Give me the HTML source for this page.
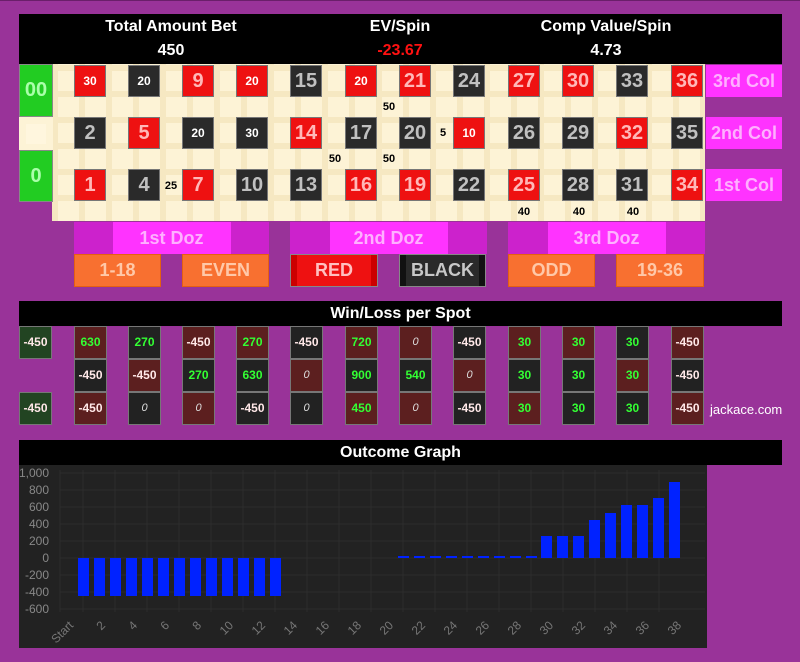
<!DOCTYPE html>
<html><head><meta charset="utf-8"><style>
*{margin:0;padding:0;box-sizing:border-box}
body{width:800px;height:662px;background:#993399;position:relative;overflow:hidden;font-family:"Liberation Sans",Arial,sans-serif;font-weight:bold}
.a{position:absolute}
.hd{background:#000;color:#fff;text-align:center}
.t{position:absolute;font-size:16px;color:#fff;text-align:center;width:240px}
.c{position:absolute;width:32px;height:32px;border:1px solid #777;text-align:center;line-height:30px;font-size:20px}
.r{background:#ee1111;color:#ffb8b8}
.k{background:#2a2a2a;color:#c0c0c0}
.s{font-size:12px;color:#fff}
.chip{position:absolute;font-size:11px;color:#000;width:24px;text-align:center;margin-left:-12px;line-height:12px}
.col{position:absolute;left:706px;width:76px;height:32px;background:#ff33ff;color:#ffb0ff;font-size:18px;text-align:center;line-height:32px;font-weight:bold}
.dz{position:absolute;top:222px;height:32px;background:#cc22cc}
.dz span{position:absolute;left:50%;transform:translateX(-50%);top:0;height:32px;width:118px;background:#ff33ff;color:#ffb0ff;font-size:18px;line-height:32px;text-align:center}
.ob{position:absolute;top:254px;height:33px;background:#f87030;border:1px solid #e56010;color:#ffc8a8;font-size:18px;text-align:center;line-height:31px}
.w{position:absolute;width:33px;height:33px;border:1px solid #777;text-align:center;line-height:31px;font-size:12px;color:#ffe8e8}
.wr{background:#5c1f1f}.wk{background:#222}.wg{background:#224422}
.p{color:#33ff33}.z{font-style:italic;font-weight:normal;color:#ddd;font-size:11px}
</style></head><body>
<div class="a" style="left:0;top:0;width:800px;height:1px;background:#6a1f6a"></div>
<div class="a hd" style="left:19px;top:14px;width:763px;height:50px"></div>
<div class="t" style="left:51px;top:18px">Total Amount Bet</div>
<div class="t" style="left:51px;top:42px">450</div>
<div class="t" style="left:280px;top:18px">EV/Spin</div>
<div class="t" style="left:280px;top:42px;color:#ff1111">-23.67</div>
<div class="t" style="left:486px;top:18px">Comp Value/Spin</div>
<div class="t" style="left:486px;top:42px">4.73</div>

<div class="a" style="left:52px;top:64px;width:653px;height:157px;background:#fdf3d6;background-image:repeating-linear-gradient(90deg,#f6e8c2 0 6px,transparent 6px 27px),repeating-linear-gradient(0deg,transparent 0 20px,#f6e8c2 20px 26px)"></div>
<div class="a" style="left:19px;top:64px;width:34px;height:53px;background:#22cc22;border:1px solid #888;color:#aaffaa;font-size:20px;text-align:center;line-height:51px">00</div>
<div class="a" style="left:19px;top:117px;width:34px;height:33px;background:#fdf3d6"></div>
<div class="a" style="left:26px;top:124px;width:20px;height:20px;background:#fff6de"></div>
<div class="a" style="left:19px;top:150px;width:34px;height:52px;background:#22cc22;border:1px solid #888;color:#aaffaa;font-size:20px;text-align:center;line-height:50px">0</div>

<div class="c r s" style="left:74px;top:65px">30</div>
<div class="c k s" style="left:128px;top:65px">20</div>
<div class="c r" style="left:182px;top:65px">9</div>
<div class="c r s" style="left:236px;top:65px">20</div>
<div class="c k" style="left:290px;top:65px">15</div>
<div class="c r s" style="left:345px;top:65px">20</div>
<div class="c r" style="left:399px;top:65px">21</div>
<div class="c k" style="left:453px;top:65px">24</div>
<div class="c r" style="left:508px;top:65px">27</div>
<div class="c r" style="left:562px;top:65px">30</div>
<div class="c k" style="left:616px;top:65px">33</div>
<div class="c r" style="left:671px;top:65px">36</div>
<div class="c k" style="left:74px;top:117px">2</div>
<div class="c r" style="left:128px;top:117px">5</div>
<div class="c k s" style="left:182px;top:117px">20</div>
<div class="c k s" style="left:236px;top:117px">30</div>
<div class="c r" style="left:290px;top:117px">14</div>
<div class="c k" style="left:345px;top:117px">17</div>
<div class="c k" style="left:399px;top:117px">20</div>
<div class="c r s" style="left:453px;top:117px">10</div>
<div class="c k" style="left:508px;top:117px">26</div>
<div class="c k" style="left:562px;top:117px">29</div>
<div class="c r" style="left:616px;top:117px">32</div>
<div class="c k" style="left:671px;top:117px">35</div>
<div class="c r" style="left:74px;top:169px">1</div>
<div class="c k" style="left:128px;top:169px">4</div>
<div class="c r" style="left:182px;top:169px">7</div>
<div class="c k" style="left:236px;top:169px">10</div>
<div class="c k" style="left:290px;top:169px">13</div>
<div class="c r" style="left:345px;top:169px">16</div>
<div class="c r" style="left:399px;top:169px">19</div>
<div class="c k" style="left:453px;top:169px">22</div>
<div class="c r" style="left:508px;top:169px">25</div>
<div class="c k" style="left:562px;top:169px">28</div>
<div class="c k" style="left:616px;top:169px">31</div>
<div class="c r" style="left:671px;top:169px">34</div>

<div class="chip" style="left:389px;top:101px">50</div>
<div class="chip" style="left:335px;top:153px">50</div>
<div class="chip" style="left:389px;top:153px">50</div>
<div class="chip" style="left:443px;top:127px">5</div>
<div class="chip" style="left:171px;top:180px">25</div>
<div class="chip" style="left:524px;top:206px">40</div>
<div class="chip" style="left:579px;top:206px">40</div>
<div class="chip" style="left:633px;top:206px">40</div>

<div class="col" style="top:65px">3rd Col</div>
<div class="col" style="top:117px">2nd Col</div>
<div class="col" style="top:169px">1st Col</div>

<div class="dz" style="left:74px;width:195px"><span>1st Doz</span></div>
<div class="dz" style="left:290px;width:197px"><span>2nd Doz</span></div>
<div class="dz" style="left:508px;width:197px"><span>3rd Doz</span></div>

<div class="ob" style="left:74px;width:87px">1-18</div>
<div class="ob" style="left:182px;width:87px">EVEN</div>
<div class="ob" style="left:290px;width:88px;background:#ee1111;border-color:#888;color:#ffc0c0;box-shadow:inset 6px 0 #cc0000,inset -6px 0 #cc0000">RED</div>
<div class="ob" style="left:399px;width:87px;background:#2a2a2a;border-color:#888;color:#c8c8c8;box-shadow:inset 6px 0 #111,inset -6px 0 #111">BLACK</div>
<div class="ob" style="left:508px;width:87px">ODD</div>
<div class="ob" style="left:616px;width:88px">19-36</div>

<div class="a hd" style="left:19px;top:301px;width:763px;height:25px;font-size:16px;line-height:25px">Win/Loss per Spot</div>
<div class="w wg" style="left:19px;top:326px">-450</div>
<div class="w wg" style="left:19px;top:392px">-450</div>
<div class="w wr p" style="left:74px;top:326px">630</div>
<div class="w wk p" style="left:128px;top:326px">270</div>
<div class="w wr" style="left:182px;top:326px">-450</div>
<div class="w wr p" style="left:236px;top:326px">270</div>
<div class="w wk" style="left:290px;top:326px">-450</div>
<div class="w wr p" style="left:345px;top:326px">720</div>
<div class="w wr z" style="left:399px;top:326px">0</div>
<div class="w wk" style="left:453px;top:326px">-450</div>
<div class="w wr p" style="left:508px;top:326px">30</div>
<div class="w wr p" style="left:562px;top:326px">30</div>
<div class="w wk p" style="left:616px;top:326px">30</div>
<div class="w wr" style="left:671px;top:326px">-450</div>
<div class="w wk" style="left:74px;top:359px">-450</div>
<div class="w wr" style="left:128px;top:359px">-450</div>
<div class="w wk p" style="left:182px;top:359px">270</div>
<div class="w wk p" style="left:236px;top:359px">630</div>
<div class="w wr z" style="left:290px;top:359px">0</div>
<div class="w wk p" style="left:345px;top:359px">900</div>
<div class="w wk p" style="left:399px;top:359px">540</div>
<div class="w wr z" style="left:453px;top:359px">0</div>
<div class="w wk p" style="left:508px;top:359px">30</div>
<div class="w wk p" style="left:562px;top:359px">30</div>
<div class="w wr p" style="left:616px;top:359px">30</div>
<div class="w wk" style="left:671px;top:359px">-450</div>
<div class="w wr" style="left:74px;top:392px">-450</div>
<div class="w wk z" style="left:128px;top:392px">0</div>
<div class="w wr z" style="left:182px;top:392px">0</div>
<div class="w wk" style="left:236px;top:392px">-450</div>
<div class="w wk z" style="left:290px;top:392px">0</div>
<div class="w wr p" style="left:345px;top:392px">450</div>
<div class="w wr z" style="left:399px;top:392px">0</div>
<div class="w wk" style="left:453px;top:392px">-450</div>
<div class="w wr p" style="left:508px;top:392px">30</div>
<div class="w wk p" style="left:562px;top:392px">30</div>
<div class="w wk p" style="left:616px;top:392px">30</div>
<div class="w wr" style="left:671px;top:392px">-450</div>
<div class="a" style="left:710px;top:402px;font-size:13px;font-weight:normal;color:#fff">jackace.com</div>

<div class="a hd" style="left:19px;top:440px;width:763px;height:25px;font-size:16px;line-height:25px">Outcome Graph</div>
<svg class="a" style="left:19px;top:465px" width="688" height="183" viewBox="19 465 688 183">
<rect x="19" y="465" width="688" height="183" fill="#222"/>
<g stroke="#2c2c2c" stroke-width="1">
<line x1="60" y1="473" x2="705" y2="473"/><line x1="60" y1="490" x2="705" y2="490"/><line x1="60" y1="507" x2="705" y2="507"/><line x1="60" y1="524" x2="705" y2="524"/><line x1="60" y1="541" x2="705" y2="541"/><line x1="60" y1="558" x2="705" y2="558"/><line x1="60" y1="575" x2="705" y2="575"/><line x1="60" y1="592" x2="705" y2="592"/><line x1="60" y1="609" x2="705" y2="609"/>
<line x1="60" y1="470" x2="60" y2="612"/><line x1="83" y1="470" x2="83" y2="612"/><line x1="115" y1="470" x2="115" y2="612"/><line x1="147" y1="470" x2="147" y2="612"/><line x1="179" y1="470" x2="179" y2="612"/><line x1="211" y1="470" x2="211" y2="612"/><line x1="243" y1="470" x2="243" y2="612"/><line x1="275" y1="470" x2="275" y2="612"/><line x1="307" y1="470" x2="307" y2="612"/><line x1="339" y1="470" x2="339" y2="612"/><line x1="371" y1="470" x2="371" y2="612"/><line x1="403" y1="470" x2="403" y2="612"/><line x1="435" y1="470" x2="435" y2="612"/><line x1="467" y1="470" x2="467" y2="612"/><line x1="499" y1="470" x2="499" y2="612"/><line x1="531" y1="470" x2="531" y2="612"/><line x1="563" y1="470" x2="563" y2="612"/><line x1="595" y1="470" x2="595" y2="612"/><line x1="627" y1="470" x2="627" y2="612"/><line x1="659" y1="470" x2="659" y2="612"/>
</g>
<g fill="#888" font-size="12" font-weight="normal" text-anchor="end" font-family="Liberation Sans,sans-serif">
<text x="49" y="477">1,000</text><text x="49" y="494">800</text><text x="49" y="511">600</text><text x="49" y="528">400</text><text x="49" y="545">200</text><text x="49" y="562">0</text><text x="49" y="579">-200</text><text x="49" y="596">-400</text><text x="49" y="613">-600</text>
</g>
<g fill="#0022ff">
<rect x="78" y="558" width="11" height="38"/><rect x="94" y="558" width="11" height="38"/><rect x="110" y="558" width="11" height="38"/><rect x="126" y="558" width="11" height="38"/><rect x="142" y="558" width="11" height="38"/><rect x="158" y="558" width="11" height="38"/><rect x="174" y="558" width="11" height="38"/><rect x="190" y="558" width="11" height="38"/><rect x="206" y="558" width="11" height="38"/><rect x="222" y="558" width="11" height="38"/><rect x="238" y="558" width="11" height="38"/><rect x="254" y="558" width="11" height="38"/><rect x="270" y="558" width="11" height="38"/>
<rect x="398" y="556" width="11" height="2"/><rect x="414" y="556" width="11" height="2"/><rect x="430" y="556" width="11" height="2"/><rect x="446" y="556" width="11" height="2"/><rect x="462" y="556" width="11" height="2"/><rect x="478" y="556" width="11" height="2"/><rect x="494" y="556" width="11" height="2"/><rect x="510" y="556" width="11" height="2"/><rect x="526" y="556" width="11" height="2"/>
<rect x="541" y="536" width="11" height="22"/><rect x="557" y="536" width="11" height="22"/><rect x="573" y="536" width="11" height="22"/><rect x="589" y="520" width="11" height="38"/><rect x="605" y="513" width="11" height="45"/><rect x="621" y="505" width="11" height="53"/><rect x="637" y="505" width="11" height="53"/><rect x="653" y="498" width="11" height="60"/><rect x="669" y="482" width="11" height="76"/>
</g>
<g fill="#777" font-size="12" font-weight="normal" text-anchor="end" font-family="Liberation Sans,sans-serif">
<text transform="translate(74,626) rotate(-45)">Start</text>
<text transform="translate(106,626) rotate(-45)">2</text><text transform="translate(138,626) rotate(-45)">4</text><text transform="translate(170,626) rotate(-45)">6</text><text transform="translate(202,626) rotate(-45)">8</text><text transform="translate(234,626) rotate(-45)">10</text><text transform="translate(266,626) rotate(-45)">12</text><text transform="translate(298,626) rotate(-45)">14</text><text transform="translate(330,626) rotate(-45)">16</text><text transform="translate(362,626) rotate(-45)">18</text><text transform="translate(394,626) rotate(-45)">20</text><text transform="translate(426,626) rotate(-45)">22</text><text transform="translate(458,626) rotate(-45)">24</text><text transform="translate(490,626) rotate(-45)">26</text><text transform="translate(522,626) rotate(-45)">28</text><text transform="translate(554,626) rotate(-45)">30</text><text transform="translate(586,626) rotate(-45)">32</text><text transform="translate(618,626) rotate(-45)">34</text><text transform="translate(650,626) rotate(-45)">36</text><text transform="translate(682,626) rotate(-45)">38</text>
</g>
</svg>
</body></html>
